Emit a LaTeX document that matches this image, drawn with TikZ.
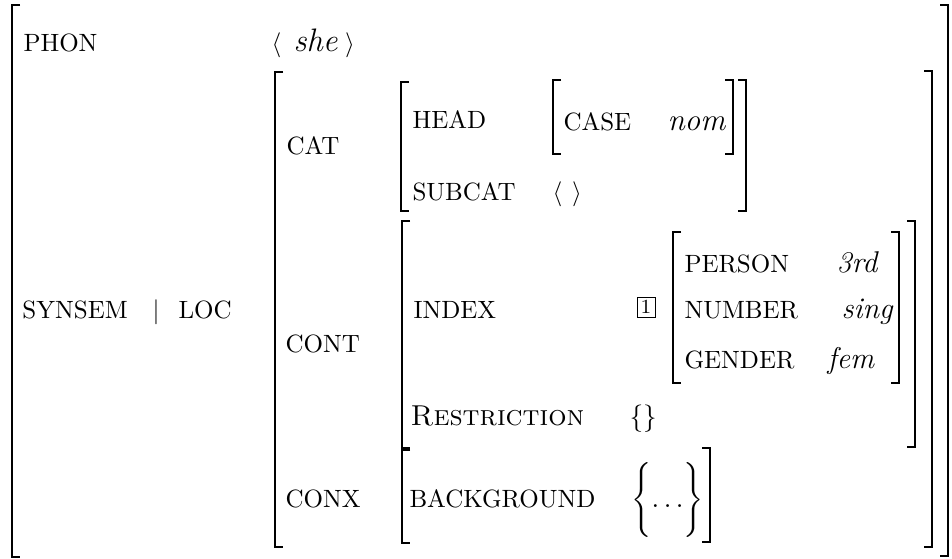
\documentclass[tikz,border=0pt]{standalone}
\usepackage{fontspec}
\usepackage{tikz}
% square brackets of the matrix: x, top, bottom
\newcommand{\avmL}[3]{\draw[brk] (#1+8,#2) -- (#1,#2) -- (#1,#3) -- (#1+8,#3);}
\newcommand{\avmR}[3]{\draw[brk] (#1-8,#2) -- (#1,#2) -- (#1,#3) -- (#1-8,#3);}

\begin{document}
\begin{tikzpicture}[x=0.4pt,y=-0.4pt,
  lab/.style={anchor=base west,inner sep=0pt,font=\fontsize{10}{12}\selectfont},
  val/.style={anchor=base west,inner sep=0pt,font=\fontsize{12}{14}\selectfont\itshape},
  brk/.style={line width=0.8pt}
]
  \useasboundingbox (0,0) rectangle (952,559);
  % outer matrix
  \avmL{12}{5}{557}
  \avmR{948}{5}{556}
  \node[lab] (phon) at (23,52) {PHON};
  \node[lab] (she) at (271,52) {$\langle$\enspace{\fontsize{13}{15}\selectfont\itshape she}\hspace{3pt}$\rangle$};
  \node[lab] (synsem) at (22,318) {SYNSEM};
  \node[lab] (bar) at (152,318) {$|$};
  \node[lab] (loc) at (178,318) {LOC};
  % local value
  \avmL{275}{72}{547}
  \avmR{932}{71}{547}
  \node[lab] (cat) at (286,155) {CAT};
  \node[lab] (cont) at (285,352) {CONT};
  \node[lab] (conx) at (285,507) {CONX};
  % category
  \avmL{401}{82}{211}
  \avmR{746}{80}{211}
  \node[lab] (head) at (412,128) {HEAD};
  \node[lab] (subcat) at (412,200) {SUBCAT};
  \avmL{553}{80}{154}
  \avmR{733}{80}{154}
  \node[lab] (case) at (563,130) {CASE};
  \node[val,font=\fontsize{12.5}{15}\selectfont\itshape] (nom) at (667,130) {nom};
  \node[lab] (subval) at (552,200) {$\langle\hspace{4pt}\rangle$};
  % content
  \avmL{402}{221}{448}
  \avmR{915}{221}{447}
  \node[lab] (index) at (413,318) {INDEX};
  \node[draw,line width=0.4pt,inner sep=0pt,minimum width=7.2pt,minimum height=8pt,
        font=\fontsize{8}{9}\selectfont] (tag) at (646,307) {1};
  \avmL{673}{232}{383}
  \avmR{899}{232}{383}
  \node[lab] (person) at (684,272) {PERSON};
  \node[val] (third) at (836,272) {3rd};
  \node[lab] (number) at (684,318) {NUMBER};
  \node[val] (sing) at (841,318) {sing};
  \node[lab] (gender) at (684,368) {GENDER};
  \node[val] (fem) at (827,368) {fem};
  \node[lab,font=\fontsize{11.5}{14}\selectfont] (restr) at (410,425) {\textsc{Restriction}};
  \node[lab,font=\fontsize{11}{13}\selectfont] (restrval) at (629,425) {$\{\}$};
  % context
  \avmL{402}{450}{543}
  \avmR{710}{448}{542}
  \node[lab] (bgd) at (409,507) {BACKGROUND};
  \node[lab,font=\fontsize{10.5}{12}\selectfont] (bgdval) at (631,507) {$\Bigg\{\!\ldots\!\Bigg\}$};
\end{tikzpicture}
\end{document}
